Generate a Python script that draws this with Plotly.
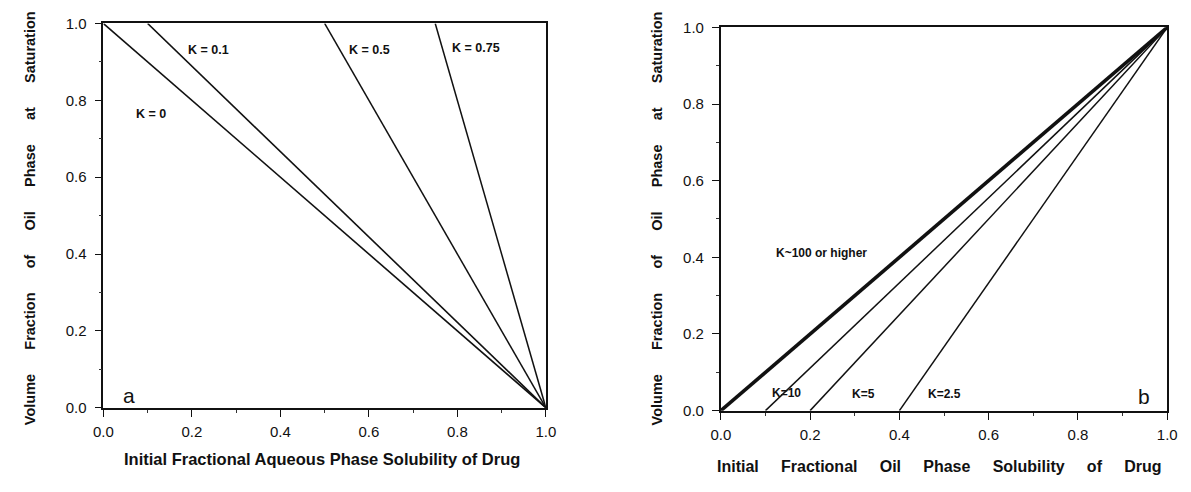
import plotly.graph_objects as go

# ---------------- data ----------------
# Panel a: lines from (x_start, 1) to (1, 0)
a_labels = ["K = 0", "K = 0.1", "K = 0.5", "K = 0.75"]
a_x = [[0.0, 1.0], [0.1, 1.0], [0.5, 1.0], [0.75, 1.0]]
a_y = [[1.0, 0.0], [1.0, 0.0], [1.0, 0.0], [1.0, 0.0]]

# Panel b: lines from (x_start, 0) to (1, 1)
b_labels = ["K~100 or higher", "K=10", "K=5", "K=2.5"]
b_x = [[0.0, 1.0], [0.1, 1.0], [0.2, 1.0], [0.4, 1.0]]
b_y = [[0.0, 1.0], [0.0, 1.0], [0.0, 1.0], [0.0, 1.0]]

tick_vals = [0.0, 0.2, 0.4, 0.6, 0.8, 1.0]
tick_text = ["0.0", "0.2", "0.4", "0.6", "0.8", "1.0"]

x_title_a = "Initial Fractional Aqueous Phase Solubility of Drug"
x_title_b_words = ["Initial", "Fractional", "Oil", "Phase", "Solubility", "of", "Drug"]
y_title_words = ["Volume", "Fraction", "of", "Oil", "Phase", "at", "Saturation"]

# ---------------- styling / layout ----------------
W, H = 1191, 492
FONT = "Liberation Sans"
NB = "\u00a0"

def px_x(p):
    return p / W

def px_y(p):
    return 1 - p / H

a_dom_x = [px_x(95), px_x(545)]
a_dom_y = [px_y(413), px_y(15)]
b_dom_x = [px_x(723), px_x(1177)]
b_dom_y = [px_y(416), px_y(19)]

a_widths = [1.6, 1.6, 1.5, 1.5]
b_widths = [3.6, 1.5, 1.5, 1.5]

fig = go.Figure()
for xs, ys, lw, name in zip(a_x, a_y, a_widths, a_labels):
    fig.add_trace(go.Scatter(x=xs, y=ys, mode="lines", name=name,
                             line=dict(color="#111", width=lw),
                             xaxis="x", yaxis="y", showlegend=False))
for xs, ys, lw, name in zip(b_x, b_y, b_widths, b_labels):
    fig.add_trace(go.Scatter(x=xs, y=ys, mode="lines", name=name,
                             line=dict(color="#111", width=lw),
                             xaxis="x2", yaxis="y2", showlegend=False))

def axis(domain, anchor):
    return dict(domain=domain, anchor=anchor, range=[0, 1],
                tickvals=tick_vals, ticktext=tick_text,
                ticks="outside", ticklen=7, tickwidth=1.3, tickcolor="#111",
                minor=dict(dtick=0.1, tick0=0, ticks="outside", ticklen=3,
                           tickwidth=1, tickcolor="#333"),
                showline=True, linecolor="#111", linewidth=1.8, mirror=True,
                showgrid=False, zeroline=False,
                tickfont=dict(family=FONT, size=15, color="#111"),
                fixedrange=True)

layout = dict(
    width=W, height=H,
    margin=dict(l=0, r=0, t=0, b=0),
    paper_bgcolor="white", plot_bgcolor="white",
    xaxis=axis(a_dom_x, "y"),
    yaxis=axis(a_dom_y, "x"),
    xaxis2=axis(b_dom_x, "y2"),
    yaxis2=axis(b_dom_y, "x2"),
)
fig.update_layout(**layout)
fig.update_yaxes(ticklabelstandoff=5)
fig.update_xaxes(ticklabelstandoff=2)

annotations = []

# curve labels, panel a
a_label_pos = [(0.107, 0.764), (0.238, 0.932), (0.602, 0.932), (0.842, 0.937)]
for lab, (xx, yy) in zip(a_labels, a_label_pos):
    annotations.append(dict(x=xx, y=yy, xref="x", yref="y", text="<b>" + lab + "</b>",
                            showarrow=False, xanchor="center", yanchor="middle",
                            font=dict(family=FONT, size=12.5, color="#111")))
# curve labels, panel b
b_label_pos = [(0.225, 0.41), (0.148, 0.045), (0.319, 0.043), (0.502, 0.043)]
for lab, (xx, yy) in zip(b_labels, b_label_pos):
    annotations.append(dict(x=xx, y=yy, xref="x2", yref="y2", text="<b>" + lab + "</b>",
                            showarrow=False, xanchor="center", yanchor="middle",
                            font=dict(family=FONT, size=12, color="#111")))

# panel letters
annotations.append(dict(x=0.058, y=0.032, xref="x", yref="y", text="a", showarrow=False,
                        xanchor="center", yanchor="middle",
                        font=dict(family=FONT, size=21, color="#111")))
annotations.append(dict(x=0.947, y=0.038, xref="x2", yref="y2", text="b", showarrow=False,
                        xanchor="center", yanchor="middle",
                        font=dict(family=FONT, size=21, color="#111")))

# axis titles
y_title = (NB * 6).join(y_title_words)
for xp in (20, 658):
    annotations.append(dict(x=px_x(xp), y=px_y(217), xref="paper", yref="paper",
                            text="<b>" + y_title + "</b>", textangle=-90,
                            showarrow=False, xanchor="center", yanchor="middle",
                            font=dict(family=FONT, size=14.5, color="#111")))
annotations.append(dict(x=px_x(317), y=px_y(466), xref="paper", yref="paper",
                        text="<b>" + x_title_a + "</b>", showarrow=False,
                        xanchor="center", yanchor="middle",
                        font=dict(family=FONT, size=16.5, color="#111")))
x_title_b = (NB * 5).join(x_title_b_words)
annotations.append(dict(x=px_x(945), y=px_y(474), xref="paper", yref="paper",
                        text="<b>" + x_title_b + "</b>", showarrow=False,
                        xanchor="center", yanchor="middle",
                        font=dict(family=FONT, size=16, color="#111")))

fig.update_layout(annotations=annotations)
fig.write_html("out.html")
